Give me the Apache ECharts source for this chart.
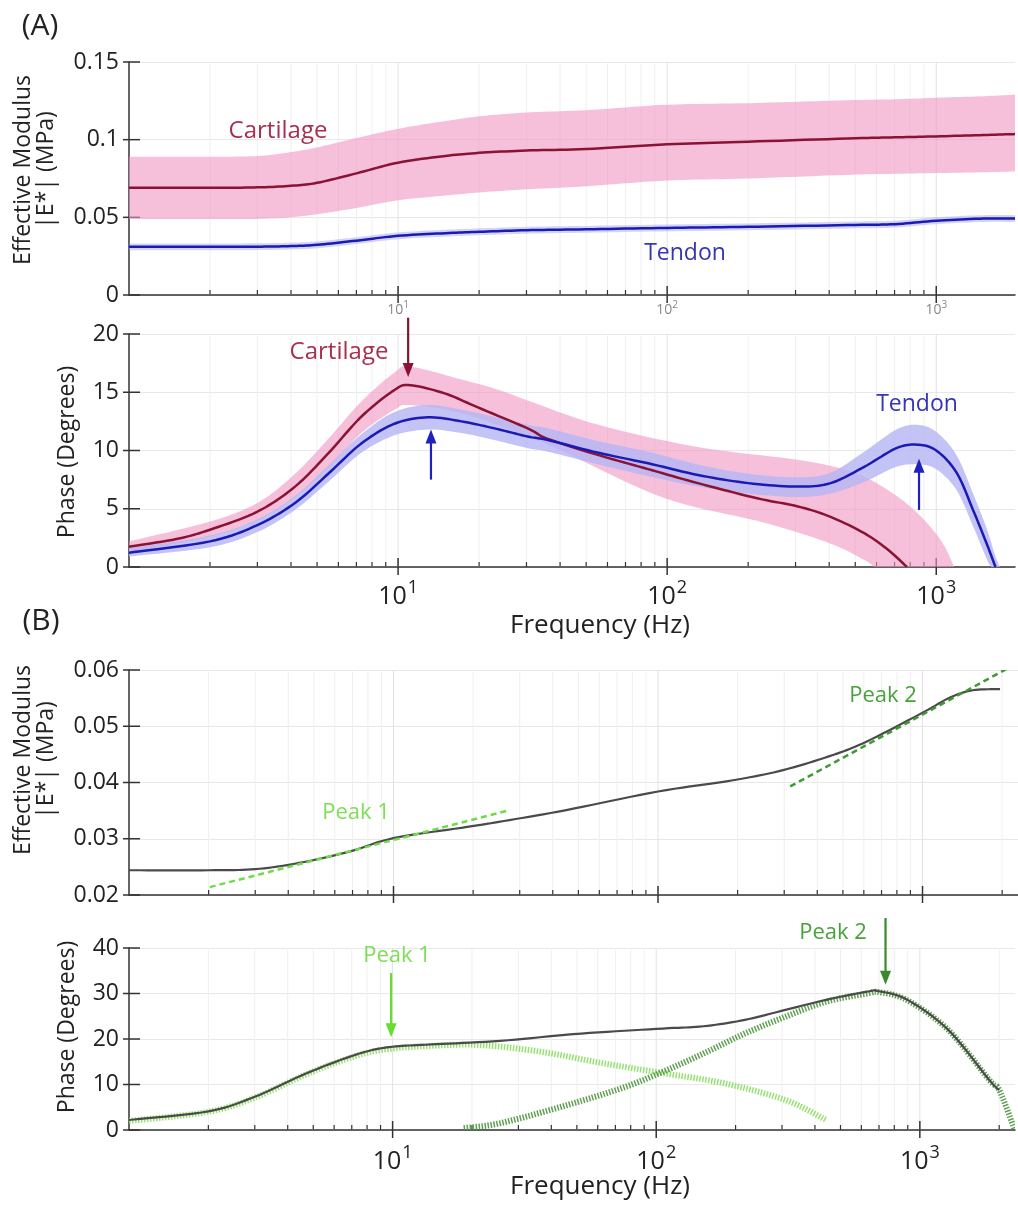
<!DOCTYPE html>
<html><head><meta charset="utf-8">
<script src="https://cdn.jsdelivr.net/npm/echarts@6/dist/echarts.min.js"></script>
<style>html,body{margin:0;padding:0;background:#fff}#c{width:1018px;height:1208px}</style>
</head><body><div id="c"></div>
<script>
// ================= DATA =================
// (A) top: effective modulus vs frequency (Hz)
const aModHz      = [1, 2, 3, 4, 5, 7, 10, 15, 20, 30, 50, 100, 200, 500, 700, 1000, 1500, 1962];
const cartMod     = [0.069, 0.069, 0.0693, 0.0703, 0.0722, 0.0783, 0.0852, 0.0895, 0.0915, 0.093, 0.094, 0.097, 0.0987, 0.1009, 0.1015, 0.1021, 0.103, 0.1036];
const cartModHi   = [0.089, 0.089, 0.0895, 0.092, 0.095, 0.101, 0.107, 0.112, 0.115, 0.1175, 0.119, 0.1225, 0.1235, 0.1255, 0.126, 0.127, 0.128, 0.129];
const cartModLo   = [0.049, 0.049, 0.049, 0.050, 0.052, 0.056, 0.061, 0.064, 0.066, 0.068, 0.070, 0.0737, 0.075, 0.0775, 0.078, 0.0785, 0.079, 0.0795];
const tendMod     = [0.031, 0.031, 0.0311, 0.0315, 0.0323, 0.035, 0.0381, 0.0398, 0.0407, 0.0417, 0.0423, 0.0432, 0.0439, 0.0451, 0.0456, 0.0478, 0.0492, 0.0492];
const tendModHi   = [0.0332, 0.0332, 0.0333, 0.0337, 0.0345, 0.0372, 0.0403, 0.042, 0.0429, 0.0439, 0.0445, 0.0454, 0.0461, 0.0473, 0.0478, 0.05, 0.0514, 0.0514];
const tendModLo   = [0.0288, 0.0288, 0.0289, 0.0293, 0.0301, 0.0328, 0.0359, 0.0376, 0.0385, 0.0395, 0.0401, 0.041, 0.0417, 0.0429, 0.0434, 0.0456, 0.047, 0.047];

// (A) bottom: phase (degrees)
const cartPhHz    = [1, 1.5, 2, 3, 4.14, 5.5, 7.3, 9.7, 11.1, 14.9, 19.8, 30.3, 36, 55.6, 85, 130, 216, 306, 405, 540, 660, 778];
const cartPh      = [1.74, 2.4, 3.2, 4.75, 6.9, 9.75, 12.9, 15.2, 15.6, 14.9, 13.7, 11.9, 11.0, 9.6, 8.4, 7.2, 5.9, 5.2, 4.3, 2.9, 1.5, 0];
const cartPhHiHz  = [1, 2, 3, 4.14, 5.5, 7.3, 9.7, 11.1, 17.2, 23.7, 30.3, 55.6, 130, 306, 468, 621, 828, 1040, 1166];
const cartPhHi    = [2.2, 3.9, 5.5, 8.0, 11.0, 14.2, 16.7, 17.2, 16.1, 15.2, 14.3, 12.2, 10.3, 9.2, 8.3, 7.0, 4.9, 2.3, 0];
const cartPhLoHz  = [1, 2, 3, 4.14, 5.5, 7.3, 9.7, 11.1, 17.2, 30.3, 42, 98, 230, 405, 540, 590];
const cartPhLo    = [1.3, 2.6, 4.0, 6.0, 8.5, 11.5, 13.5, 13.9, 13.2, 11.2, 9.8, 5.9, 3.8, 2.0, 0.6, 0];
const tendPhHz    = [1, 2, 3, 4.14, 5.5, 7.3, 9.7, 12.9, 17.2, 22.8, 30.3, 36, 55.6, 85, 130, 200, 306, 405, 540, 711, 850, 1000, 1190, 1370, 1540, 1660];
const tendPh      = [1.23, 2.2, 3.6, 5.5, 8.0, 10.6, 12.3, 12.85, 12.5, 11.9, 11.2, 10.9, 9.8, 8.9, 7.9, 7.2, 6.9, 7.2, 8.6, 10.2, 10.5, 10.0, 8.1, 4.9, 2.0, 0];
const tendPhHiHz  = [1, 2, 3, 4.14, 5.5, 7.3, 9.7, 12.9, 17.2, 22.8, 30.3, 36, 55.6, 85, 130, 200, 306, 405, 540, 711, 850, 1000, 1190, 1370, 1540, 1660, 1725];
const tendPhHi    = [1.6, 2.7, 4.1, 6.1, 8.7, 11.4, 13.3, 13.9, 13.5, 12.9, 12.2, 11.9, 10.8, 9.9, 8.8, 8.0, 7.7, 8.1, 9.9, 11.8, 12.2, 11.6, 9.6, 6.3, 3.3, 0.9, 0];
const tendPhLoHz  = [1, 2, 3, 4.14, 5.5, 7.3, 9.7, 12.9, 17.2, 22.8, 30.3, 36, 55.6, 85, 130, 200, 306, 405, 540, 711, 850, 1000, 1190, 1370, 1540, 1600];
const tendPhLo    = [0.9, 1.7, 3.0, 4.9, 7.3, 9.8, 11.3, 11.8, 11.5, 10.9, 10.2, 9.9, 8.8, 7.8, 6.9, 6.3, 6.0, 6.3, 7.3, 8.6, 8.8, 8.4, 6.6, 3.5, 0.7, 0];

// (B) top: effective modulus, fit tangents
const bModHz      = [1, 2, 3, 4.4, 6.8, 10, 19, 25, 45, 100, 192, 297, 459, 616, 1000, 1270, 1550, 1964];
const bMod        = [0.0244, 0.0244, 0.0246, 0.0257, 0.0277, 0.0301, 0.0321, 0.033, 0.0351, 0.0384, 0.0404, 0.0422, 0.0449, 0.0473, 0.0524, 0.0551, 0.0564, 0.0566];
const peak1ModHz  = [2.02, 27.6];
const peak1Mod    = [0.0214, 0.0351];
const peak2ModHz  = [316, 2277];
const peak2Mod    = [0.0393, 0.0612];

// (B) bottom: phase with two relaxation components
const bPhHz       = [1, 2, 3, 4.4, 5.9, 7.9, 10, 14, 25.6, 52, 106, 151, 217, 309, 441, 631, 700, 897, 1282, 1833, 2000];
const bPh         = [2.2, 4.1, 7.3, 11.7, 14.7, 17.2, 18.3, 18.8, 19.6, 21.2, 22.3, 22.8, 24.2, 26.4, 28.6, 30.4, 30.5, 28.6, 22.0, 11.0, 8.8];
const peak1PhHz   = [1, 2, 3, 4.4, 5.9, 7.9, 10, 14, 21.3, 36.5, 62.5, 106, 180, 309, 441];
const peak1Ph     = [2.0, 4.0, 7.1, 11.5, 14.5, 16.9, 17.9, 18.5, 18.7, 17.2, 14.7, 12.5, 10.3, 6.6, 2.2];
const peak2PhHz   = [18.6, 25.6, 43.6, 74, 106, 151, 217, 309, 441, 631, 700, 897, 1282, 1833, 2000, 2290];
const peak2Ph     = [0.4, 1.5, 5.1, 9.2, 12.8, 16.8, 21.2, 24.9, 28.2, 30.0, 30.3, 28.5, 22.0, 11.0, 8.8, 0];

// arrows: [frequency, tail value, head value]
const arrowsAPhCart = [[10.9, 21.4, 16.3]];
const arrowsAPhTend = [[13.25, 7.5, 11.8], [863, 4.9, 9.3]];
const arrowsBPhP1   = [[9.87, 34.5, 20.4]];
const arrowsBPhP2   = [[741, 46.6, 31.9]];

// axis ticks
const minorHz  = [2,3,4,5,6,7,8,9,20,30,40,50,60,70,80,90,200,300,400,500,600,700,800,900,2000];
const decadeHz = [10, 100, 1000];
const yTicksAMod = [0, 0.05, 0.1, 0.15];
const yTicksAPh  = [0, 5, 10, 15, 20];
const yTicksBMod = [0.02, 0.03, 0.04, 0.05, 0.06];
const yTicksBPh  = [0, 10, 20, 30, 40];

// ================= CHART =================
const FONT = "'Open Sans', sans-serif";
const chart = echarts.init(document.getElementById('c'), null, {renderer: 'canvas'});

function decorData(xMax, yMin, yTicks) {
  const d = [];
  minorHz.filter(f => f < xMax).forEach(f => d.push([f, yMin, 0]));
  decadeHz.forEach(f => d.push([f, yMin, 1]));
  yTicks.forEach(v => d.push([1, v, 2]));
  return d;
}
function decorRender(yMin, yMax) {
  return function (params, api) {
    const kind = api.value(2);
    if (kind === 2) {
      const p = api.coord([1, api.value(1)]);
      return {type: 'line', shape: {x1: p[0] - 6, y1: p[1], x2: p[0] + 11, y2: p[1]}, style: {stroke: '#333', lineWidth: 1.5}};
    }
    const f = api.value(0);
    const b = api.coord([f, yMin]), t = api.coord([f, yMax]);
    const major = kind === 1;
    return {type: 'group', children: [
      {type: 'line', shape: {x1: b[0], y1: b[1], x2: b[0], y2: t[1]}, style: {stroke: major ? '#e2e2e2' : '#efefef', lineWidth: 1}},
      {type: 'line', shape: {x1: b[0], y1: major ? b[1] + 8 : b[1], x2: b[0], y2: b[1] - (major ? 9 : 5)}, style: {stroke: '#333', lineWidth: major ? 1.5 : 1.2}}
    ]};
  };
}
// Catmull-Rom smoothing of pixel points (rendering only)
function densify(pts) {
  const out = [];
  const n = pts.length;
  if (n < 3) return pts.slice();
  for (let i = 0; i < n - 1; i++) {
    const p0 = pts[Math.max(i - 1, 0)], p1 = pts[i], p2 = pts[i + 1], p3 = pts[Math.min(i + 2, n - 1)];
    for (let k = 0; k < 10; k++) {
      const t = k / 10, t2 = t * t, t3 = t2 * t;
      out.push([0, 1].map(j => 0.5 * ((2 * p1[j]) + (-p0[j] + p2[j]) * t + (2 * p0[j] - 5 * p1[j] + 4 * p2[j] - p3[j]) * t2 + (-p0[j] + 3 * p1[j] - 3 * p2[j] + p3[j]) * t3)));
    }
  }
  out.push(pts[n - 1]);
  return out;
}
function bandSeries(xi, hiHz, hi, loHz, lo, fill) {
  return {
    type: 'custom', xAxisIndex: xi, yAxisIndex: xi, clip: true, silent: true, z: 2,
    data: [[hiHz[0], hi[0]]],
    renderItem: function (params, api) {
      const up = densify(hiHz.map((f, i) => api.coord([f, hi[i]])));
      const dn = densify(loHz.map((f, i) => api.coord([f, lo[i]])));
      return {type: 'polygon', shape: {points: up.concat(dn.reverse())}, style: {fill: fill}};
    }
  };
}
function curveSeries(xi, xs, ys, color, width, dash, z) {
  return {
    type: 'custom', xAxisIndex: xi, yAxisIndex: xi, clip: true, silent: true, z: z || 3,
    data: [[xs[0], ys[0]]],
    renderItem: function (params, api) {
      const pts = densify(xs.map((f, i) => api.coord([f, ys[i]])));
      return {type: 'polyline', shape: {points: pts}, style: {stroke: color, lineWidth: width, fill: null, lineDash: dash || null, lineJoin: 'round'}};
    }
  };
}
function arrowSeries(xi, data, color) {
  return {
    type: 'custom', xAxisIndex: xi, yAxisIndex: xi, silent: true, z: 6, clip: false, data: data,
    renderItem: function (params, api) {
      const p1 = api.coord([api.value(0), api.value(1)]);
      const p2 = api.coord([api.value(0), api.value(2)]);
      const d = p2[1] > p1[1] ? 1 : -1;
      const hl = 14, hw = 5.5;
      return {type: 'group', children: [
        {type: 'line', shape: {x1: p1[0], y1: p1[1], x2: p2[0], y2: p2[1] - d * hl * 0.8}, style: {stroke: color, lineWidth: 2.2}},
        {type: 'polygon', shape: {points: [[p2[0], p2[1]], [p2[0] - hw, p2[1] - d * hl], [p2[0] + hw, p2[1] - d * hl]]}, style: {fill: color}}
      ]};
    }
  };
}
function decorSeries(xi, xMax, yMin, yMax, yTicks) {
  return {type: 'custom', xAxisIndex: xi, yAxisIndex: xi, silent: true, z: 1, clip: false,
    data: decorData(xMax, yMin, yTicks), renderItem: decorRender(yMin, yMax)};
}

const X_A = 1962, X_B = 2296;
const isDecade = v => Math.abs(Math.log10(v) - Math.round(Math.log10(v))) < 1e-6 && Math.round(Math.log10(v)) >= 1;
function xAxis(gi, max, labelCfg) {
  return {
    type: 'log', logBase: 10, gridIndex: gi, min: 1, max: max,
    axisLine: {show: true, onZero: false, lineStyle: {color: '#333', width: 1.5}},
    axisTick: {show: false}, splitLine: {show: false}, minorTick: {show: false},
    axisLabel: labelCfg ? Object.assign({
      formatter: v => isDecade(v) ? '{b|10}{s|' + Math.round(Math.log10(v)) + '}' : '',
      showMinLabel: true, showMaxLabel: true
    }, labelCfg) : {show: false}
  };
}
function yAxis(gi, min, max, interval) {
  return {
    type: 'value', gridIndex: gi, min: min, max: max, interval: interval,
    axisLine: {show: true, onZero: false, lineStyle: {color: '#333', width: 1.5}},
    axisTick: {show: false},
    splitLine: {show: true, lineStyle: {color: '#e8e8e8', width: 1}},
    axisLabel: {fontSize: 23, color: '#222', margin: 10, fontFamily: FONT}
  };
}

const bigLabel = {margin: 12, rich: {
  b: {fontSize: 25, color: '#222', fontFamily: FONT, lineHeight: 30, verticalAlign: 'bottom'},
  s: {fontSize: 18, color: '#222', fontFamily: FONT, lineHeight: 30, verticalAlign: 'top', padding: [0, 0, 0, 1]}
}};
const smallLabel = {margin: 5, rich: {
  b: {fontSize: 14, color: '#888', fontFamily: FONT, lineHeight: 17, verticalAlign: 'bottom'},
  s: {fontSize: 10, color: '#888', fontFamily: FONT, lineHeight: 17, verticalAlign: 'top'}
}};

function txt(x, y, text, size, color, rot) {
  return {type: 'text', x: x, y: y, rotation: rot || 0, silent: true, z: 10,
    style: {text: text, fill: color, fontSize: size, fontFamily: FONT, textAlign: 'center', textVerticalAlign: 'middle', lineHeight: size}};
}

const PINK = 'rgba(240,150,195,0.6)';
const CART = '#8a1232', TEND = '#1a1ab4';
const option = {
  animation: false,
  backgroundColor: '#fff',
  textStyle: {fontFamily: FONT},
  grid: [
    {left: 129, top: 62, width: 889, height: 233},
    {left: 129, top: 334, width: 889, height: 233},
    {left: 129, top: 670, width: 889, height: 225},
    {left: 129, top: 948, width: 889, height: 182}
  ],
  xAxis: [xAxis(0, X_A, smallLabel), xAxis(1, X_A, bigLabel), xAxis(2, X_B, null), xAxis(3, X_B, Object.assign({}, bigLabel, {margin: 14}))],
  yAxis: [yAxis(0, 0, 0.15, 0.05), yAxis(1, 0, 20, 5), yAxis(2, 0.02, 0.06, 0.01), yAxis(3, 0, 40, 10)],
  series: [
    // panel A top
    decorSeries(0, X_A, 0, 0.15, yTicksAMod),
    bandSeries(0, aModHz, cartModHi, aModHz, cartModLo, PINK),
    bandSeries(0, aModHz, tendModHi, aModHz, tendModLo, 'rgba(160,160,238,0.45)'),
    curveSeries(0, aModHz, cartMod, CART, 2.5),
    curveSeries(0, aModHz, tendMod, TEND, 2.5),
    // panel A bottom
    decorSeries(1, X_A, 0, 20, yTicksAPh),
    bandSeries(1, cartPhHiHz, cartPhHi, cartPhLoHz, cartPhLo, PINK),
    curveSeries(1, cartPhHz, cartPh, CART, 2.5),
    bandSeries(1, tendPhHiHz, tendPhHi, tendPhLoHz, tendPhLo, 'rgba(182,182,244,0.82)'),
    curveSeries(1, tendPhHz, tendPh, TEND, 2.5, null, 4),
    arrowSeries(1, arrowsAPhCart, CART),
    arrowSeries(1, arrowsAPhTend, '#2020c0'),
    // panel B top
    decorSeries(2, X_B, 0.02, 0.06, yTicksBMod),
    curveSeries(2, bModHz, bMod, '#4a4a4a', 2.2),
    curveSeries(2, peak1ModHz, peak1Mod, '#6edc4a', 2.5, [6, 4], 4),
    curveSeries(2, peak2ModHz, peak2Mod, '#3f9a34', 2.5, [6, 4], 4),
    // panel B bottom
    decorSeries(3, X_B, 0, 40, yTicksBPh),
    curveSeries(3, peak1PhHz, peak1Ph, 'rgba(140,222,100,0.9)', 6, [1.5, 1.5]),
    curveSeries(3, peak2PhHz, peak2Ph, 'rgba(80,150,64,0.9)', 6, [1.5, 1.5]),
    curveSeries(3, bPhHz, bPh, '#4a4a4a', 2.2, null, 4),
    arrowSeries(3, arrowsBPhP1, '#66dd33'),
    arrowSeries(3, arrowsBPhP2, '#3a8a2c')
  ],
  graphic: [
    txt(40, 26, '(A)', 30, '#222'),
    txt(41, 621, '(B)', 30, '#222'),
    txt(35, 170, 'Effective Modulus\n|E*| (MPa)', 23, '#222', Math.PI / 2),
    txt(35, 760, 'Effective Modulus\n|E*| (MPa)', 23, '#222', Math.PI / 2),
    txt(67, 452, 'Phase (Degrees)', 23, '#222', Math.PI / 2),
    txt(67, 1027, 'Phase (Degrees)', 23, '#222', Math.PI / 2),
    txt(600, 626, 'Frequency (Hz)', 26, '#222'),
    txt(600, 1187, 'Frequency (Hz)', 26, '#222'),
    txt(278, 131, 'Cartilage', 24, '#a8304f'),
    txt(685, 253, 'Tendon', 23, '#3535b5'),
    txt(339, 352, 'Cartilage', 24, '#a8304f'),
    txt(917, 404, 'Tendon', 23, '#3535b5'),
    txt(356, 813, 'Peak 1', 22, '#7ede58'),
    txt(883, 696, 'Peak 2', 22, '#48a23a'),
    txt(397, 956, 'Peak 1', 22, '#7ede58'),
    txt(833, 933, 'Peak 2', 22, '#48a23a')
  ]
};
chart.setOption(option);
</script></body></html>
